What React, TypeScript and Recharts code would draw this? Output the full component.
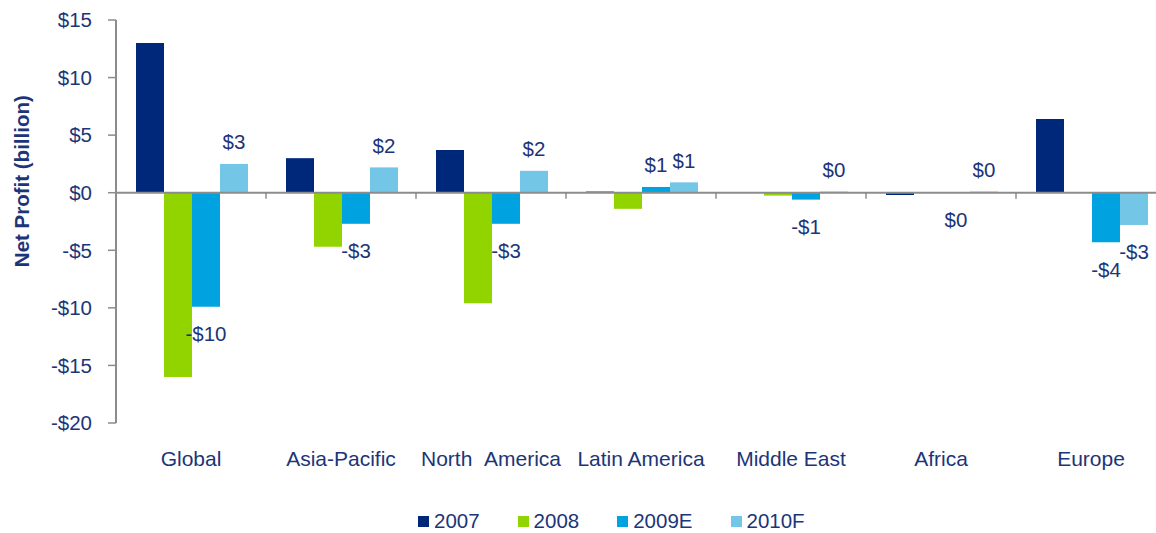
import React from "react";
import {
  Bar,
  BarChart,
  LabelList,
  Legend,
  ReferenceLine,
  XAxis,
  YAxis,
} from "recharts";

// net profit by region, $ billion
const regions = [
  "Global",
  "Asia-Pacific",
  "North\u00a0\u00a0America",
  "Latin America",
  "Middle East",
  "Africa",
  "Europe",
];
const profit2007 = [13.0, 3.0, 3.7, 0.1, 0, -0.2, 6.4];
const profit2008 = [-16.0, -4.7, -9.6, -1.4, -0.25, 0, 0];
const profit2009E = [-9.9, -2.7, -2.7, 0.5, -0.6, -0.02, -4.3];
const profit2010F = [2.5, 2.2, 1.9, 0.9, 0.1, 0.1, -2.8];
const yTicks = [-20, -15, -10, -5, 0, 5, 10, 15];

const series = [
  { key: "2007", values: profit2007, color: "#00287a", labels: false },
  { key: "2008", values: profit2008, color: "#92d400", labels: false },
  { key: "2009E", values: profit2009E, color: "#00a3e0", labels: true },
  { key: "2010F", values: profit2010F, color: "#73c6e6", labels: true },
];

const data = regions.map((name, i) => {
  const row: any = { name };
  series.forEach((s) => (row[s.key] = s.values[i]));
  return row;
});

const FONT = "'Liberation Sans', Arial, sans-serif";
const TEXT = "#1c3578";
const AXIS = "#8c8c8c";
const FS = 20.5;

const money = (v: number) => {
  const r = Math.round(Math.abs(v));
  return `${v < 0 && r !== 0 ? "-" : ""}$${r}`;
};

const BarValue = (props: any) => {
  const { x, y, width, height, value } = props;
  const top = Math.min(y, y + height);
  const bottom = Math.max(y, y + height);
  const cy = value >= 0 ? top - 22 : bottom + 27;
  return (
    <text
      x={x + width / 2}
      y={cy}
      textAnchor="middle"
      dominantBaseline="central"
      fill={TEXT}
      fontSize={FS}
      fontFamily={FONT}
    >
      {money(value)}
    </text>
  );
};

// zero line with small ticks between the categories
const ZeroLine = (props: any) => {
  const { x1, x2, y1 } = props;
  const step = (x2 - x1) / regions.length;
  return (
    <g>
      <line x1={x1} x2={x2} y1={y1} y2={y1} stroke={AXIS} strokeWidth={2} />
      {regions.map((_, i) => (
        <line
          key={i}
          x1={x1 + step * (i + 1)}
          x2={x1 + step * (i + 1)}
          y1={y1}
          y2={y1 + 6}
          stroke={AXIS}
          strokeWidth={1.5}
        />
      ))}
    </g>
  );
};

const LegendBox = () => (
  <div style={{ display: "flex", gap: 38, fontFamily: FONT, fontSize: FS, color: TEXT }}>
    {series.map((s) => (
      <div key={s.key} style={{ display: "flex", alignItems: "center", gap: 5 }}>
        <span style={{ width: 11, height: 11, background: s.color, display: "inline-block" }} />
        <span>{s.key}</span>
      </div>
    ))}
  </div>
);

const AxisTitle = (props: any) => {
  const vb = props.viewBox;
  const cx = vb.x + 22;
  const cy = vb.y + vb.height * 0.4;
  return (
    <text
      x={cx}
      y={cy}
      transform={`rotate(-90 ${cx} ${cy})`}
      textAnchor="middle"
      dominantBaseline="central"
      fill={TEXT}
      fontSize={20.5}
      fontWeight="bold"
      fontFamily={FONT}
    >
      Net Profit (billion)
    </text>
  );
};

export default function App() {
  return (
    <div
      style={{
        position: "fixed",
        left: 0,
        top: 0,
        width: 1156,
        height: 533,
        overflow: "hidden",
        background: "#fff",
      }}
    >
      <BarChart
        width={1180}
        height={533}
        data={data}
        margin={{ top: 20, right: 14, left: 0, bottom: 70 }}
        barCategoryGap={20}
        barGap={0}
      >
        <XAxis
          dataKey="name"
          height={40}
          axisLine={false}
          tickLine={false}
          tickSize={0}
          tickMargin={28}
          interval={0}
          tick={{ fill: TEXT, fontSize: 21, fontFamily: FONT }}
        />
        <YAxis
          width={116}
          domain={[-20, 15]}
          ticks={yTicks}
          tickFormatter={(v: number) => (v < 0 ? `-$${-v}` : `$${v}`)}
          axisLine={{ stroke: AXIS, strokeWidth: 2 }}
          tickLine={{ stroke: AXIS, strokeWidth: 1.5 }}
          tickSize={8}
          tickMargin={16}
          tick={{ fill: TEXT, fontSize: FS, fontFamily: FONT }}
          label={<AxisTitle />}
        />
        {series.map((s) => (
          <Bar key={s.key} dataKey={s.key} fill={s.color} isAnimationActive={false}>
            {s.labels && <LabelList dataKey={s.key} content={<BarValue />} />}
          </Bar>
        ))}
        <ReferenceLine y={0} shape={<ZeroLine />} />
        <Legend
          layout="horizontal"
          verticalAlign="middle"
          align="center"
          content={<LegendBox />}
          wrapperStyle={{ position: "absolute", left: 418, top: 509, width: "auto" }}
        />
      </BarChart>
    </div>
  );
}
